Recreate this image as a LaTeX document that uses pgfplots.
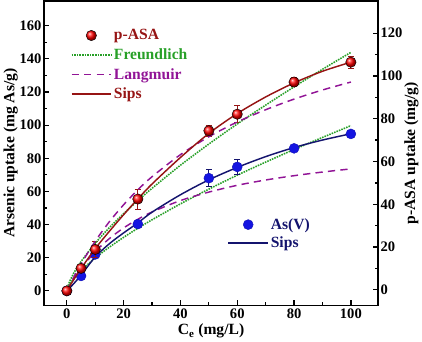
\documentclass[border=0pt]{standalone}
\usepackage{pgfplots}
\pgfplotsset{compat=1.18}
\usepackage{fontspec}
\setmainfont{Liberation Serif}
\definecolor{sred}{RGB}{150,20,20}
\definecolor{fgreen}{RGB}{40,160,40}
\definecolor{lpurple}{RGB}{145,20,150}
\definecolor{asblue}{RGB}{20,20,225}
\definecolor{navy}{RGB}{20,20,110}
\pgfplotsset{
  common/.style={
    width=321pt, height=293pt, scale only axis,
    xmin=-8, xmax=109.5, ymin=-8.8, ymax=175,
    axis line style={line width=1.6pt},
    tick align=inside,
    major tick length=5pt, minor tick length=3pt,
    every tick/.style={black, line width=1.2pt},
    /pgf/number format/assume math mode=true,
    tick label style={font=\fontsize{14}{14}\selectfont\bfseries},
    label style={font=\fontsize{15}{15}\selectfont\bfseries},
    legend cell align=left,
  },
  lineleg/.style={legend image code/.code={\draw[##1, line width=1.5pt] (0pt,0pt) -- (38pt,0pt);}},
  markleg/.style={legend image code/.code={\draw[##1,mark repeat=2,mark phase=2] plot coordinates {(0pt,0pt) (19pt,0pt) (38pt,0pt)};}},
}
\begin{document}
\begin{tikzpicture}
% ---- As(V) axis (main frame, left ticks)
\begin{axis}[common,
  tick pos=left,
  xtick={0,20,...,100}, minor x tick num=1,
  ytick={0,20,...,160}, minor y tick num=1,
  yticklabel style={xshift=1pt},
  xlabel={C\textsubscript{e} (mg/L)},
  ylabel={Arsenic uptake (mg As/g)},
  ylabel style={yshift=-5pt},
  xlabel style={yshift=2pt},
  legend style={draw=none, fill=none, at={(0.54,0.30)}, anchor=north west,
    font=\fontsize{15}{15}\selectfont\bfseries, row sep=2pt},
]
% Freundlich (As(V))
\addplot[fgreen, densely dotted, line width=1.5pt, smooth, forget plot] coordinates {
(0,0) (0.5,2.4) (1,4.0) (2.5,7.5) (5,12.3) (10,19.9) (15,26.4) (20,32.3) (25,37.8) (30,42.9) (40,52.5) (50,61.4) (60,69.8) (70,77.7) (80,85.3) (90,92.6) (100,99.7)};
% Langmuir (As(V))
\addplot[lpurple, dash pattern=on 7pt off 5pt, line width=1.4pt, smooth, forget plot] coordinates {
(0,0) (2.5,7.3) (5,13.5) (10,23.7) (15,31.6) (20,38.0) (25,43.2) (30,47.6) (40,54.5) (50,59.6) (60,63.7) (70,66.9) (80,69.5) (90,71.7) (100,73.6)};
% data As(V)
\addplot[markleg, only marks, mark=*, mark size=4.8pt, color=asblue, mark options={fill=asblue, draw=asblue!80!black},
  error bars/.cd, y dir=both, y explicit, error bar style={navy, line width=0.8pt},
  error mark options={rotate=90, mark size=3pt, navy, line width=0.8pt}]
 coordinates {
(0,0) +- (0,0.5) (5,9) +- (0,1) (10,22) +- (0,1.5) (25,40.3) +- (0,2) (50,68) +- (0,5) (60,74.8) +- (0,4.5) (80,86) +- (0,2) (100,94.7) +- (0,2)};
\addlegendentry{\textcolor{navy}{As(V)}}
% Sips (As(V))
\addplot[navy, line width=1.4pt, smooth, lineleg] coordinates {
(0,0) (2.5,4.5) (5,9.5) (10,20.5) (15,28.5) (20,35) (25,41) (30,47.5) (40,58) (50,67) (60,74.5) (70,81) (80,86.5) (90,91) (100,94.8)};
\addlegendentry{\textcolor{navy}{Sips}}
\end{axis}
% ---- p-ASA axis (overlay)
\begin{axis}[common, hide axis,
  legend style={draw=none, fill=none, at={(0.07,0.92)}, anchor=north west,
    font=\fontsize{15}{15}\selectfont\bfseries, row sep=3pt},
]
\addplot[markleg, only marks, mark=ball, mark size=5pt, ball color=red,
  error bars/.cd, y dir=both, y explicit, error bar style={sred, line width=0.8pt},
  error mark options={rotate=90, mark size=3pt, sred, line width=0.8pt}]
 coordinates {
(0,0) +- (0,1) (5,13.6) +- (0,2) (10,25) +- (0,5) (25,55.4) +- (0,6) (50,96.6) +- (0,3.5) (60,106.6) +- (0,5) (80,126) +- (0,2.5) (100,138) +- (0,3.5)};
\addlegendentry{\textcolor{sred}{p-ASA}}
\addplot[fgreen, densely dotted, line width=1.5pt, smooth, lineleg] coordinates {
(0,0) (0.5,3.5) (1,5.7) (2.5,10.9) (5,17.7) (10,28.7) (15,38.2) (20,46.6) (25,54.5) (30,61.9) (40,75.8) (50,88.6) (60,100.7) (70,112.1) (80,123.1) (90,133.7) (100,143.9)};
\addlegendentry{\textcolor{fgreen}{Freundlich}}
\addplot[lpurple, dash pattern=on 7pt off 5pt, line width=1.4pt, smooth, lineleg] coordinates {
(0,0) (2.5,8.5) (5,16.3) (10,30.0) (15,41.8) (20,52.0) (25,61.0) (30,68.9) (40,82.2) (50,93.0) (60,101.9) (70,109.3) (80,115.7) (90,121.2) (100,126.0)};
\addlegendentry{\textcolor{lpurple}{Langmuir}}
\addplot[sred, line width=1.4pt, smooth, lineleg] coordinates {
(0,0) (2.5,7) (5,13.5) (10,25.5) (15,36) (20,46) (25,55.5) (30,64.5) (40,80.5) (50,95) (60,107) (70,117) (80,125.5) (90,132.5) (100,138)};
\addlegendentry{\textcolor{sred}{Sips}}
\end{axis}
% ---- right axis
\begin{axis}[common, ymin=-7.3, ymax=135.1,
  axis x line=none, axis y line*=right,
  ytick={0,20,...,120}, minor y tick num=1,
  yticklabel style={xshift=-1pt},
  ylabel={p-ASA uptake (mg/g)},
  ylabel style={yshift=5pt},
]
\end{axis}
\end{tikzpicture}
\end{document}
